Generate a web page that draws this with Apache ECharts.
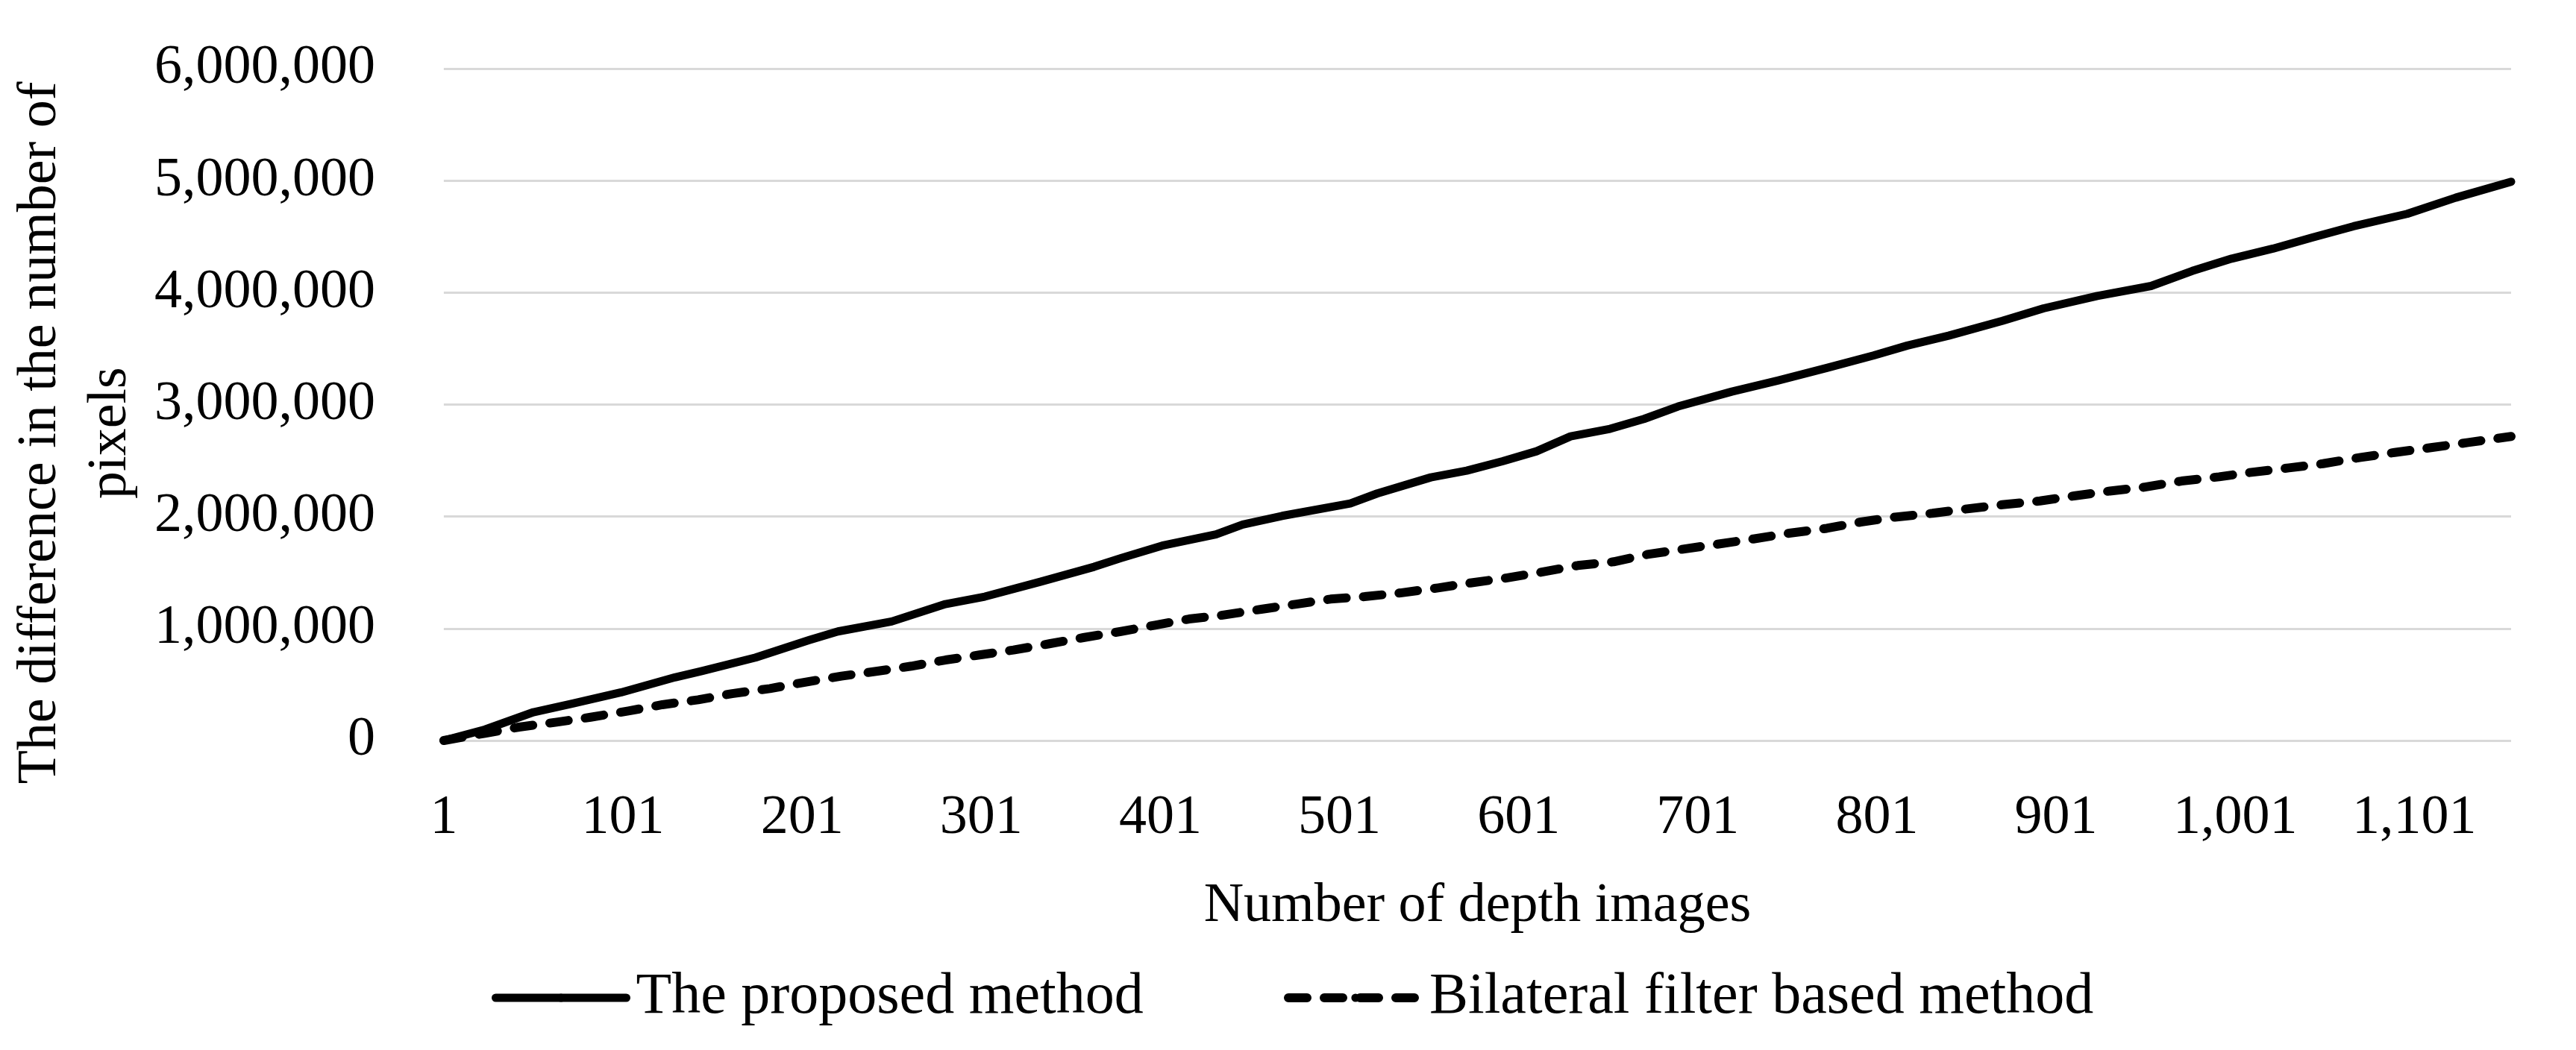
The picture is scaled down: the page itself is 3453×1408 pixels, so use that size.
<!DOCTYPE html>
<html>
<head>
<meta charset="utf-8">
<script src="https://cdn.jsdelivr.net/npm/echarts@6/dist/echarts.min.js"></script>
<style>
  html, body { margin: 0; padding: 0; background: #ffffff; }
  #chart { width: 3453px; height: 1408px; }
</style>
</head>
<body>
<div id="chart"></div>
<script>
// ---- data ----
const seriesNames = ['The proposed method', 'Bilateral filter based method'];

// image number (x) and difference in pixels (y), proposed method
const proposedImages = [1, 24, 51, 73, 100, 130, 145, 175, 205, 221, 251, 281, 303, 334, 364, 379, 402, 432, 447, 469, 507, 522, 552, 572, 592, 611, 630, 652, 671, 690, 720, 746, 773, 799, 818, 841, 871, 894, 924, 954, 977, 999, 1022, 1044, 1067, 1097, 1124, 1155];
const proposedValues = [0, 98000, 253000, 330000, 430000, 564000, 620000, 741000, 897000, 974000, 1063000, 1218000, 1285000, 1418000, 1551000, 1629000, 1740000, 1840000, 1929000, 2006000, 2117000, 2206000, 2350000, 2410000, 2494000, 2583000, 2716000, 2783000, 2872000, 2983000, 3116000, 3216000, 3327000, 3438000, 3527000, 3615000, 3748000, 3859000, 3970000, 4059000, 4193000, 4303000, 4392000, 4492000, 4592000, 4703000, 4847000, 4990000];

// bilateral filter based method
const bilateralImages = [1, 24, 43, 64, 83, 104, 123, 143, 162, 183, 202, 223, 243, 262, 281, 300, 319, 339, 358, 379, 398, 417, 435, 458, 477, 496, 515, 535, 556, 574, 594, 615, 634, 654, 673, 692, 711, 732, 752, 773, 792, 811, 832, 850, 871, 892, 911, 931, 950, 971, 992, 1010, 1031, 1050, 1071, 1090, 1111, 1131, 1155];
const bilateralValues = [0, 65000, 120000, 164000, 208000, 264000, 320000, 364000, 419000, 464000, 519000, 575000, 619000, 664000, 719000, 764000, 808000, 864000, 919000, 974000, 1030000, 1085000, 1118000, 1174000, 1218000, 1263000, 1285000, 1318000, 1363000, 1407000, 1451000, 1507000, 1563000, 1596000, 1662000, 1707000, 1751000, 1800000, 1851000, 1895000, 1951000, 1995000, 2029000, 2066000, 2106000, 2139000, 2184000, 2228000, 2262000, 2317000, 2355000, 2395000, 2435000, 2472000, 2528000, 2572000, 2617000, 2661000, 2715000];

// tick labels
const xTickLabels = ['1', '101', '201', '301', '401', '501', '601', '701', '801', '901', '1,001', '1,101'];
const yTickLabels = ['0', '1,000,000', '2,000,000', '3,000,000', '4,000,000', '5,000,000', '6,000,000'];

const xAxisTitle = 'Number of depth images';
const yAxisTitle = 'The difference in the number of\npixels';

// ---- chart ----
const FONT = '"Liberation Serif", "DejaVu Serif", serif';
const pairs = (xs, ys) => xs.map((x, i) => [x - 1, ys[i]]);

const chart = echarts.init(document.getElementById('chart'), null, { renderer: 'canvas' });

const solidStyle = { color: '#000000', width: 11, type: 'solid', cap: 'round', join: 'round' };
const dashStyle = { color: '#000000', width: 12, type: [25, 23], cap: 'round', join: 'round' };

chart.setOption({
  animation: false,
  backgroundColor: '#ffffff',
  grid: { left: 594, right: 87, top: 92, bottom: 415, containLabel: false },
  legend: [
    {
      left: 654, top: 1294,
      data: [seriesNames[0]],
      itemWidth: 175, itemHeight: 14,
      textStyle: { fontFamily: FONT, fontSize: 78, color: '#000', padding: [0, 0, 0, 8] },
      lineStyle: solidStyle
    },
    {
      left: 1716, top: 1294,
      data: [seriesNames[1]],
      itemWidth: 180, itemHeight: 14,
      textStyle: { fontFamily: FONT, fontSize: 78, color: '#000', padding: [0, 0, 0, 4] },
      lineStyle: dashStyle
    }
  ],
  xAxis: {
    type: 'value',
    min: 0,
    max: 1154,
    interval: 100,
    name: xAxisTitle,
    nameLocation: 'middle',
    nameGap: 186,
    nameTextStyle: { fontFamily: FONT, fontSize: 74, color: '#000' },
    axisLine: { show: false },
    axisTick: { show: false },
    splitLine: { show: false },
    axisLabel: {
      fontFamily: FONT, fontSize: 74, color: '#000', margin: 68,
      showMaxLabel: false,
      formatter: v => xTickLabels[Math.round(v / 100)] || ''
    }
  },
  yAxis: {
    type: 'value',
    min: 0,
    max: 6000000,
    interval: 1000000,
    name: yAxisTitle,
    nameLocation: 'middle',
    nameGap: 396,
    nameTextStyle: { fontFamily: FONT, fontSize: 74, lineHeight: 94, color: '#000', padding: [0, 76, 0, 0] },
    axisLine: { show: false },
    axisTick: { show: false },
    splitLine: { show: true, lineStyle: { color: '#d9d9d9', width: 3 } },
    axisLabel: {
      fontFamily: FONT, fontSize: 74, color: '#000', margin: 92,
      formatter: v => yTickLabels[Math.round(v / 1000000)] || ''
    }
  },
  series: [
    {
      name: seriesNames[0],
      type: 'line',
      data: pairs(proposedImages, proposedValues),
      showSymbol: false,
      symbol: 'none',
      lineStyle: solidStyle,
      itemStyle: { color: '#000' },
      z: 3
    },
    {
      name: seriesNames[1],
      type: 'line',
      data: pairs(bilateralImages, bilateralValues),
      showSymbol: false,
      symbol: 'none',
      lineStyle: dashStyle,
      itemStyle: { color: '#000' },
      z: 2
    }
  ]
});
</script>
</body>
</html>
